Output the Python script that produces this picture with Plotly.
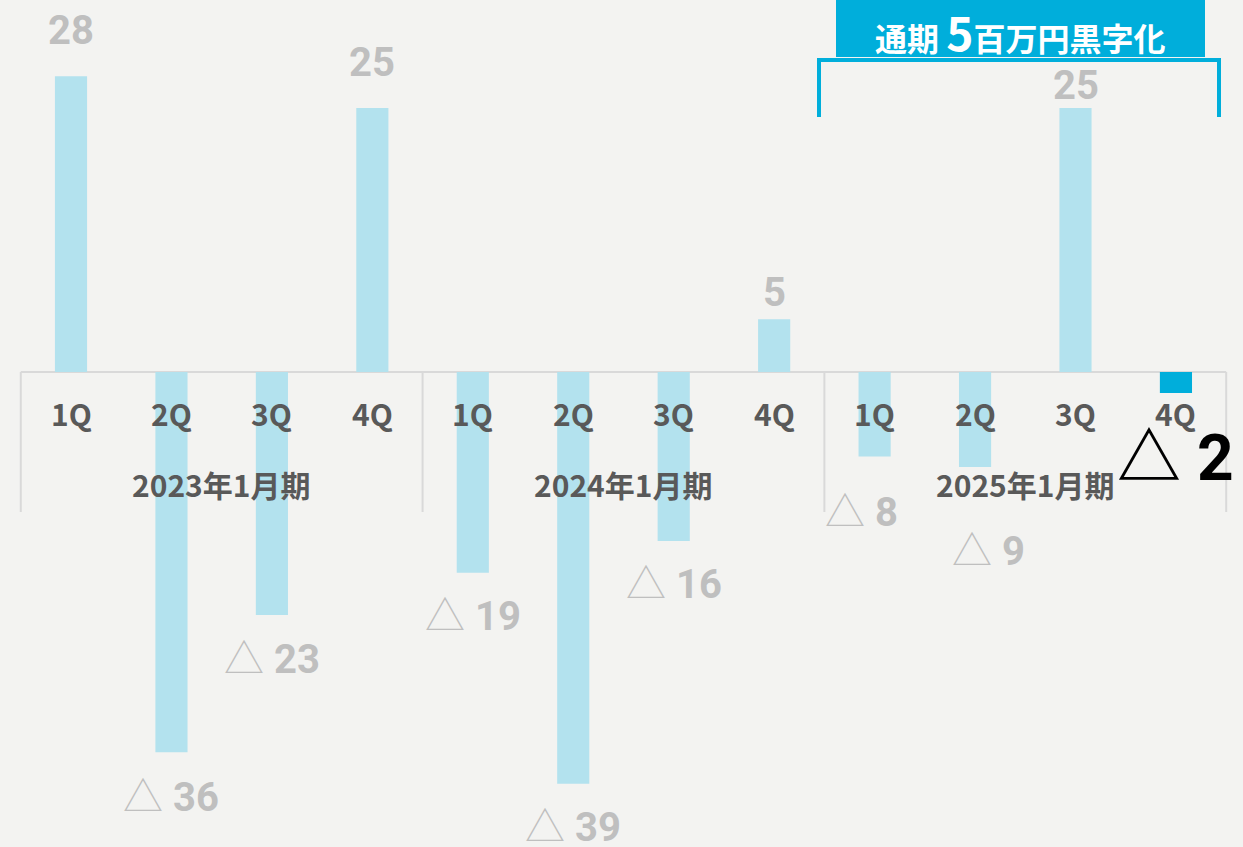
import plotly.graph_objects as go

# data
years = ["2023年1月期", "2024年1月期", "2025年1月期"]
quarters = ["1Q", "2Q", "3Q", "4Q"]
profit = [28, -36, -23, 25, -19, -39, -16, 5, -8, -9, 25, -2]
banner_text = "通期 <span style='font-size:46px'>5</span>百万円黒字化"

BG = "#f3f3f1"
LIGHT = "#b3e2ee"
DARK = "#00aedb"
GREY_TXT = "#bfbfbf"
AXIS_TXT = "#595959"
LINE = "#d9d9d9"

n = len(profit)
xs = list(range(n))
colors = [LIGHT] * (n - 1) + [DARK]

# label placement tweaks (pixels)
label_dy = [46, -45, -45, 46, -44, -44, -44, 27, -56, -84, 23, -65]
label_dx = [0, 0, 0, 0, 0, 0, 0, 0, -13, 13, 0, 0]

px_per_unit = 10.56
zero_px = 372
H = 847
W = 1243
slot = 100.45
x0 = -71 / slot
yr = [-(H - zero_px) / px_per_unit, zero_px / px_per_unit]

fig = go.Figure()
fig.add_trace(go.Bar(x=xs, y=profit, width=0.32, marker_color=colors,
                     marker_line_width=0, hoverinfo="skip"))

ann = []
tri = "<span style='font-weight:300'>△</span>"
for i, v in enumerate(profit):
    last = i == n - 1
    if v >= 0:
        txt = str(v)
    else:
        txt = tri + " " + str(-v)
    if last:
        txt = "△ " + str(-v)
    ann.append(dict(
        x=i, y=v, xref="x", yref="y", text=txt, showarrow=False,
        xanchor="center", yanchor="middle",
        xshift=label_dx[i], yshift=label_dy[i],
        font=dict(family="Roboto, Noto Sans CJK JP", size=64 if last else 40,
                  color="#000000" if last else GREY_TXT, weight="bold"),
    ))

# category axis labels
for i in xs:
    ann.append(dict(x=i, y=0, xref="x", yref="y", text=quarters[i % 4],
                    showarrow=False, yshift=-41, yanchor="middle",
                    font=dict(family="Noto Sans CJK JP", size=30,
                              color=AXIS_TXT, weight="bold")))
for g, name in enumerate(years):
    ann.append(dict(x=g * 4 + 1.5, y=0, xref="x", yref="y", text=name,
                    showarrow=False, yshift=-112, yanchor="middle",
                    font=dict(family="Noto Sans CJK JP", size=30,
                              color=AXIS_TXT, weight="bold")))

# banner text
ann.append(dict(x=9.45, y=1 - 31 / H, xref="x", yref="paper", text=banner_text,
                showarrow=False, yanchor="middle",
                font=dict(family="Noto Sans CJK JP", size=32, color="white",
                          weight="bold")))

shapes = []
# axis line and dividers
div_bottom = -(512 - zero_px) / px_per_unit
shapes.append(dict(type="line", xref="x", yref="y", x0=-0.5, x1=n - 0.5,
                   y0=0, y1=0, line=dict(color=LINE, width=2), layer="below"))
for d in range(len(years) + 1):
    xd = d * 4 - 0.5
    shapes.append(dict(type="line", xref="x", yref="y", x0=xd, x1=xd,
                       y0=0, y1=div_bottom, line=dict(color=LINE, width=2),
                       layer="below"))

# banner box and bracket
shapes.append(dict(type="rect", xref="x", yref="paper",
                   x0=(836 - 71) / slot, x1=(1205 - 71) / slot,
                   y0=1 - 57 / H, y1=1, fillcolor=DARK, line_width=0))
bl, br = (819 - 71) / slot, (1219 - 71) / slot
ytop, ybot = 1 - 60 / H, 1 - 117 / H
shapes.append(dict(type="path", xref="x", yref="paper",
                   path=f"M {bl},{ybot} L {bl},{ytop} L {br},{ytop} L {br},{ybot}",
                   line=dict(color=DARK, width=4)))

fig.update_layout(
    width=W, height=H,
    margin=dict(l=0, r=0, t=0, b=0),
    paper_bgcolor=BG, plot_bgcolor=BG,
    showlegend=False,
    annotations=ann, shapes=shapes,
    xaxis=dict(range=[x0, x0 + W / slot], showgrid=False, zeroline=False,
               showticklabels=False, fixedrange=True),
    yaxis=dict(range=yr, showgrid=False, zeroline=False,
               showticklabels=False, fixedrange=True),
)

fig.write_html("out.html", config={"displayModeBar": False},
               post_script="document.body.style.margin='0';"
                           "document.body.style.overflow='hidden';")
